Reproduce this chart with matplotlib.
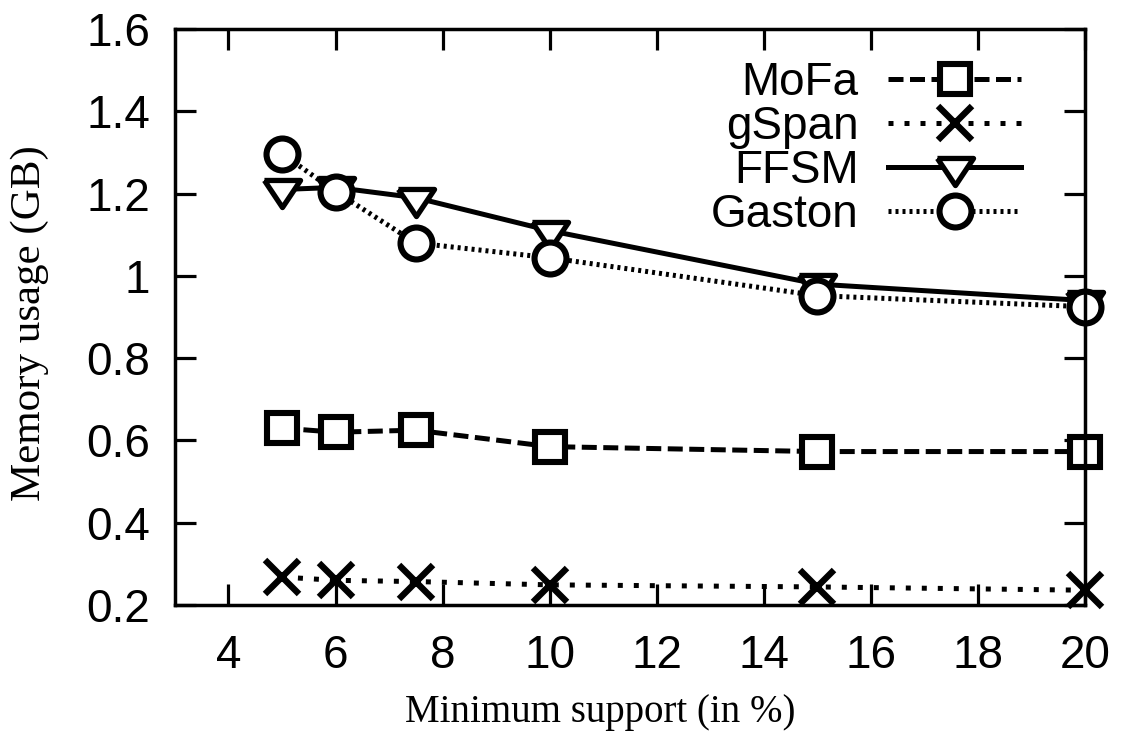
import matplotlib
matplotlib.use("Agg")
import matplotlib.pyplot as plt

# minimum support (%) and memory usage (GB) per miner
support = [5, 6, 7.5, 10, 15, 20]
mofa = [0.63, 0.62, 0.625, 0.585, 0.573, 0.573]
gspan = [0.268, 0.26, 0.257, 0.249, 0.244, 0.236]
ffsm = [1.21, 1.215, 1.19, 1.11, 0.98, 0.94]
gaston = [1.297, 1.205, 1.08, 1.044, 0.952, 0.925]

x_ticks = [4, 6, 8, 10, 12, 14, 16, 18, 20]
y_ticks = [0.2, 0.4, 0.6, 0.8, 1.0, 1.2, 1.4, 1.6]
y_tick_labels = ["0.2", "0.4", "0.6", "0.8", "1", "1.2", "1.4", "1.6"]

sans = ["Liberation Sans", "DejaVu Sans"]
serif = ["Liberation Serif", "DejaVu Serif"]

fig = plt.figure(figsize=(11.21, 7.33), dpi=100)
ax = fig.add_axes([0.156, 0.1746, 0.812, 0.7858])

lw = 3.6
tri = [(-1, 0.5), (1, 0.5), (0, -1), (-1, 0.5)]
common = dict(color="black", lw=lw, mfc="white", mec="black", clip_on=False)

ax.plot(support, mofa, marker="s", ms=21, mew=4.4, dashes=(3, 1.3),
        label="MoFa", **common)
ax.plot(support, gspan, marker="x", ms=24, mew=4.6, dashes=(1, 2.2),
        label="gSpan", **common)
ax.plot(support, ffsm, marker=tri, ms=26, mew=3.8, ls="-",
        label="FFSM", **common)
ax.plot(support, gaston, marker="o", ms=23, mew=4.4, dashes=(0.6, 0.8),
        label="Gaston", **common)

ax.set_xlim(3, 20)
ax.set_ylim(0.2, 1.6)
ax.set_xticks(x_ticks)
ax.set_yticks(y_ticks)
ax.set_yticklabels(y_tick_labels)

for s in ax.spines.values():
    s.set_linewidth(2.5)
ax.tick_params(direction="in", length=15, width=2.3, top=True, right=True,
               labelsize=33)
ax.tick_params(axis="x", pad=21)
ax.tick_params(axis="y", pad=18)
for lab in ax.get_xticklabels() + ax.get_yticklabels():
    lab.set_fontfamily(sans)

ax.set_xlabel("Minimum support (in %)", fontsize=28, family=serif)
ax.set_ylabel("Memory usage (GB)", fontsize=31, family=serif)
ax.xaxis.set_label_coords(0.467, -0.155)
ax.yaxis.set_label_coords(-0.138, 0.49)

leg = ax.legend(loc="upper right", bbox_to_anchor=(0.965, 1.0), frameon=False,
                markerfirst=False, handlelength=2.9, handletextpad=0.65,
                labelspacing=0.0, borderaxespad=0.3,
                prop={"family": sans, "size": 33})

fig.savefig("out.png", dpi=100)
